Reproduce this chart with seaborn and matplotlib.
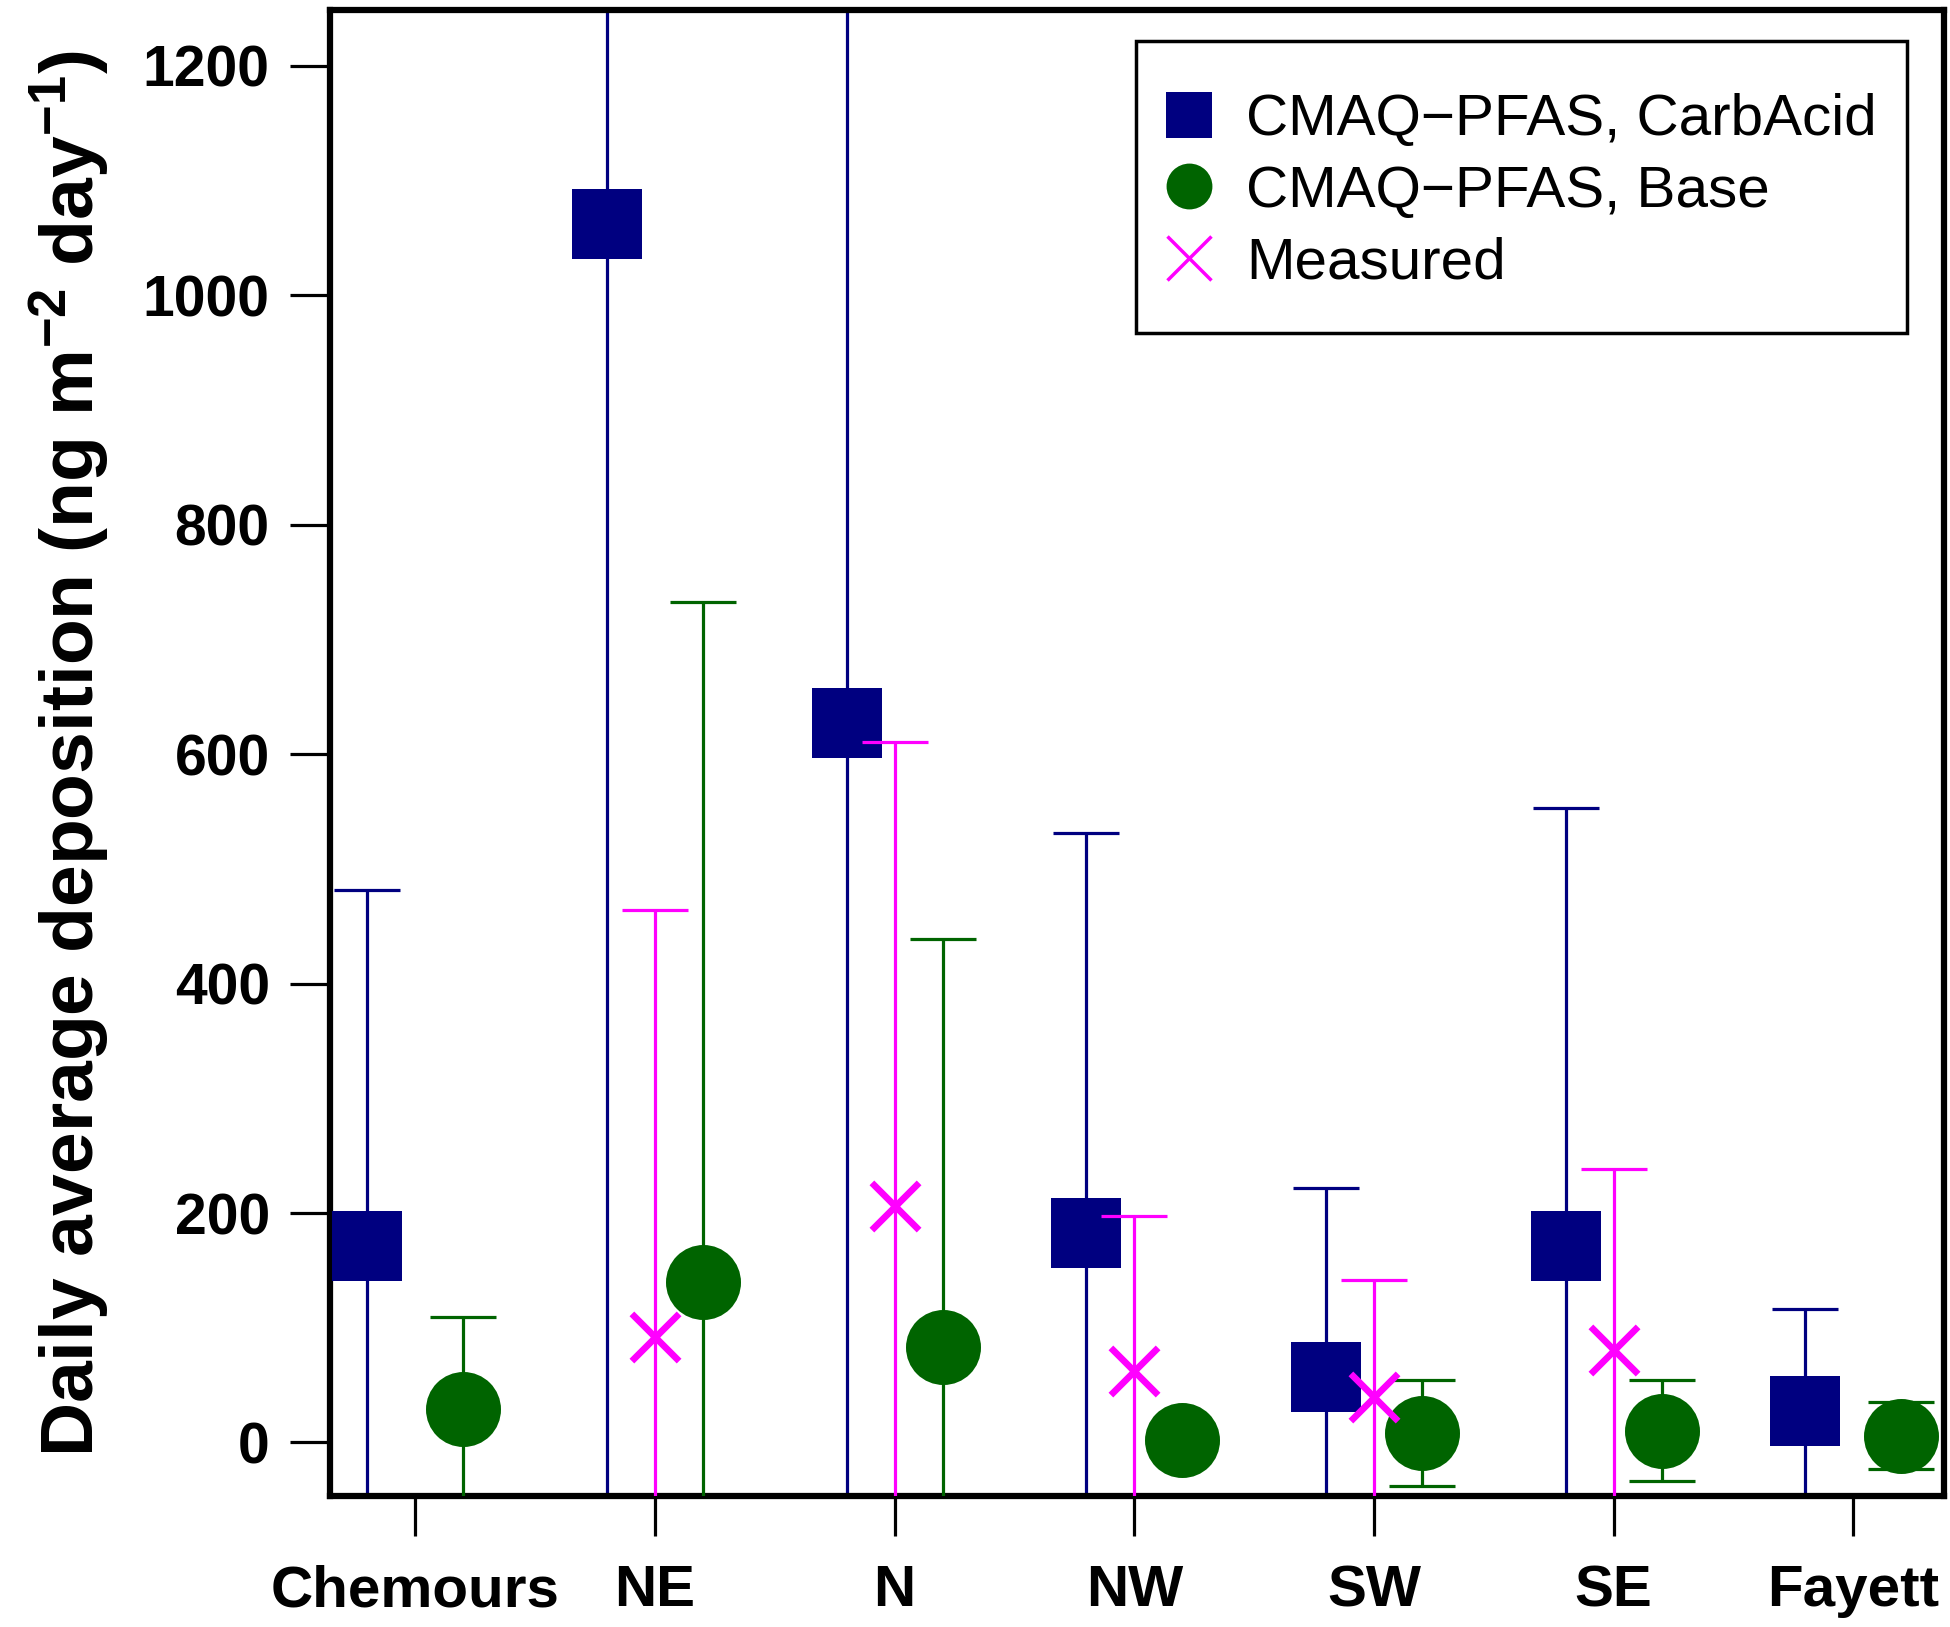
import numpy as np
import pandas as pd
import matplotlib
matplotlib.use('Agg')
import matplotlib.pyplot as plt
from matplotlib.lines import Line2D
from matplotlib.patches import Rectangle
import seaborn as sns

sites = ['Chemours', 'NE', 'N', 'NW', 'SW', 'SE', 'Fayett']

# CMAQ-PFAS, CarbAcid (mean, sd)
carb_mean = [171, 1062, 627, 183, 57, 171, 27]
carb_sd = [311, 1250, 800, 348, 165, 382, 89]
# CMAQ-PFAS, Base
base_mean = [29, 140, 83, 2, 8, 10, 6]
base_sd = [80, 593, 356, np.nan, 46, 44, 29]
# Measured
meas_mean = [np.nan, 92, 206, 62, 40, 81, np.nan]
meas_sd = [np.nan, 372, 405, 135, 102, 157, np.nan]

yticks = [0, 200, 400, 600, 800, 1000, 1200]

NAVY = '#000080'
GREEN = '#006400'
MAGENTA = '#FF00FF'

sns.set_theme(style='ticks')
plt.rcParams['font.family'] = ['Liberation Sans', 'DejaVu Sans']
plt.rcParams['mathtext.fontset'] = 'custom'
plt.rcParams['mathtext.rm'] = 'Liberation Sans:bold'
plt.rcParams['mathtext.default'] = 'rm'
for k in ['text.color', 'axes.labelcolor', 'xtick.color', 'ytick.color', 'axes.edgecolor']:
    plt.rcParams[k] = 'black'

pos = np.arange(1, len(sites) + 1)
df = pd.DataFrame({'site': sites, 'pos': pos,
                   'carb': carb_mean, 'carb_sd': carb_sd,
                   'base': base_mean, 'base_sd': base_sd,
                   'meas': meas_mean, 'meas_sd': meas_sd})

fig = plt.figure(figsize=(19.5, 16.27), dpi=100)
ax = fig.add_axes([0.169, 0.0803, 0.828, 0.9137])

series = [('carb', -0.2, NAVY, 's', 51**2, 0),
          ('base', 0.2, GREEN, 'o', 54**2, 0),
          ('meas', 0.0, MAGENTA, 'x', 34**2, 4.8)]

z = 2
for col, off, color, mk, size, lw in series:
    ax.errorbar(df['pos'] + off, df[col], yerr=df[col + '_sd'], fmt='none',
                ecolor=color, elinewidth=2.3, capsize=24, capthick=2.3, zorder=z)
    sns.scatterplot(x=df['pos'] + off, y=df[col], marker=mk, s=size, color=color,
                    linewidth=lw, legend=False, ax=ax, zorder=z + 1)
    z += 2

ax.set_xlim(0.642, 7.379)
ax.set_ylim(-47, 1249)
ax.set_xticks(pos)
ax.set_xticklabels(sites, fontsize=42, fontweight='bold')
ax.set_yticks(yticks)
ax.set_yticklabels([str(t) for t in yticks], fontsize=41, fontweight='bold')
ax.tick_params(axis='both', length=29, width=2.3, color='black', labelcolor='black')
ax.tick_params(axis='x', pad=20)
ax.tick_params(axis='y', pad=14)
ax.set_xlabel('')
ax.set_ylabel(r'Daily average deposition (ng m$^{-2}$ day$^{-1}$)',
              fontsize=54, fontweight='bold', labelpad=22, color='black')

for s in ax.spines.values():
    s.set_linewidth(4.5)
    s.set_color('black')

handles = [Line2D([], [], marker='s', color=NAVY, linestyle='none', markersize=33, markeredgewidth=0),
           Line2D([], [], marker='o', color=GREEN, linestyle='none', markersize=33, markeredgewidth=0),
           Line2D([], [], marker='x', color=MAGENTA, linestyle='none', markersize=31, markeredgewidth=2.5)]
labels = ['CMAQ\u2212PFAS, CarbAcid', 'CMAQ\u2212PFAS, Base', 'Measured']
leg = ax.legend(handles, labels, loc='upper right', bbox_to_anchor=(0.987, 0.975),
                borderaxespad=0, frameon=False, fontsize=42,
                handletextpad=0.85, labelspacing=0.3, borderpad=0.79, handlelength=0.28)
for t in leg.get_texts():
    t.set_color('black')
# legend frame
ax.add_patch(Rectangle((0.4992, 0.7824), 0.4777, 0.1966, transform=ax.transAxes,
                       fill=False, edgecolor='black', linewidth=2.5, zorder=10))

fig.savefig('out.png', dpi=100)
